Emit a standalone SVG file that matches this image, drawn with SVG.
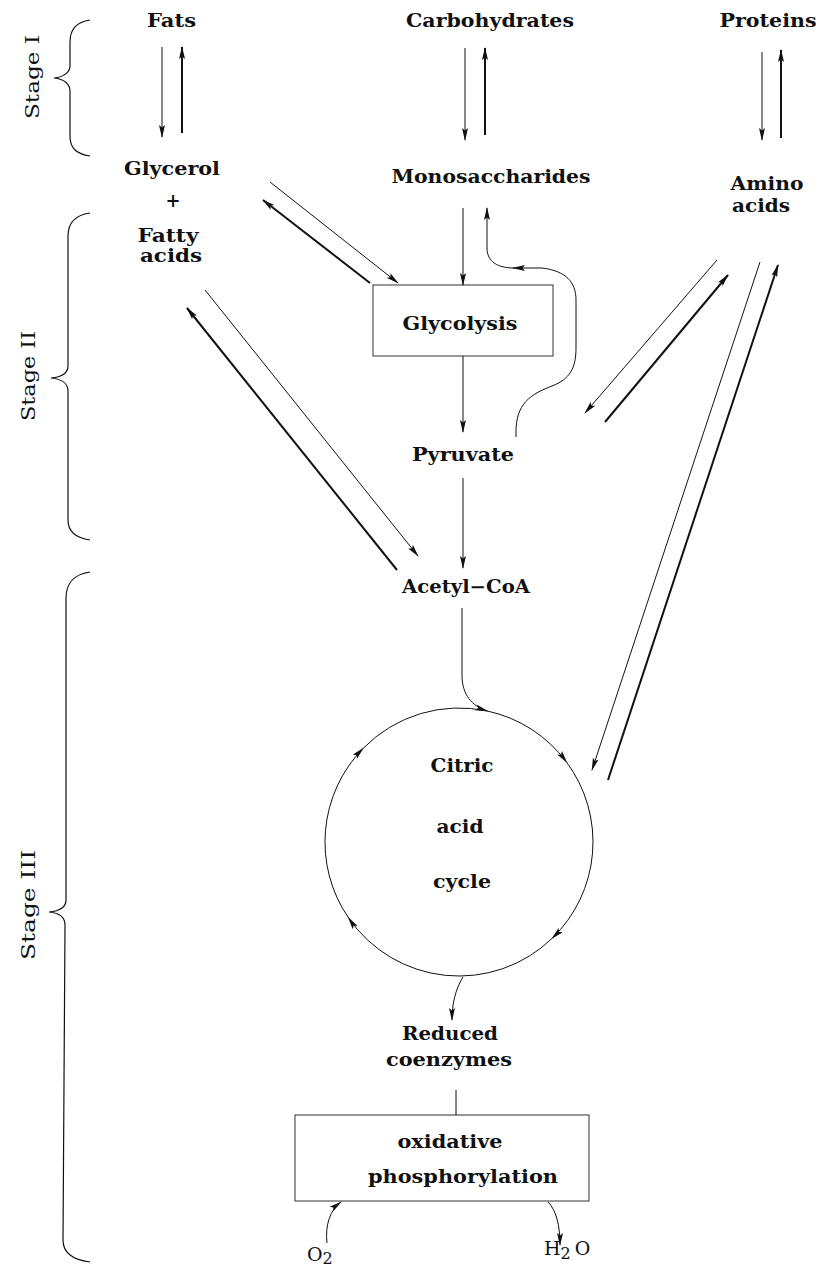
<svg xmlns="http://www.w3.org/2000/svg" width="826" height="1266" viewBox="0 0 826 1266">
<style>
.t{font-family:"DejaVu Serif","Liberation Serif",serif;font-size:18px;font-weight:bold;fill:#111;text-anchor:middle}
.s{font-family:"DejaVu Serif","Liberation Serif",serif;font-size:18px;fill:#111;text-anchor:middle}
.ln{fill:none;stroke:#111;stroke-width:1}
.th{fill:none;stroke:#111;stroke-width:2}
.ar{marker-end:url(#ah)}
.box{fill:#fff;stroke:#333;stroke-width:1}
.br{fill:none;stroke:#111;stroke-width:1.2}
</style>
<defs>
<marker id="ah" viewBox="0 0 13 7" refX="12" refY="3.5" markerWidth="13" markerHeight="7" orient="auto" markerUnits="userSpaceOnUse">
<path d="M0,0.5 L13,3.5 L0,6.5 L2.5,3.5 z" fill="#111"/>
</marker>
</defs>
<rect width="826" height="1266" fill="#fff"/>

<g id="stage-I">
<path class="br" d="M90,20 C76,22 70,30 70,42 L70,66 C70,72 64,77 54,78 C64,79 70,84 70,91 L70,136 C70,148 76,154 90,156"/>
<text class="s" transform="translate(39,77) rotate(-90)" textLength="84" lengthAdjust="spacingAndGlyphs">Stage I</text>
</g>
<g id="stage-II">
<path class="br" d="M90,213 C76,215 68,222 68,236 L68,366 C68,373 62,377 51,378 C62,379 68,384 68,391 L68,520 C68,532 76,538 90,540"/>
<text class="s" transform="translate(35,376) rotate(-90)" textLength="90" lengthAdjust="spacingAndGlyphs">Stage II</text>
</g>
<g id="stage-III">
<path class="br" d="M90,572 C76,574 66,582 66,598 L66,900 C66,907 60,911 49,912 C60,913 65,918 65,925 L63,1240 C63,1254 74,1260 90,1262"/>
<text class="s" transform="translate(35,905) rotate(-90)" textLength="110" lengthAdjust="spacingAndGlyphs">Stage III</text>
</g>

<g id="fats"><text class="t" x="171.5" y="27" textLength="49" lengthAdjust="spacingAndGlyphs">Fats</text></g>
<g id="carbohydrates"><text class="t" x="490" y="27" textLength="168" lengthAdjust="spacingAndGlyphs">Carbohydrates</text></g>
<g id="proteins"><text class="t" x="768" y="27" textLength="97" lengthAdjust="spacingAndGlyphs">Proteins</text></g>

<g id="glycerol-fatty-acids">
<text class="t" x="172" y="175" textLength="96" lengthAdjust="spacingAndGlyphs">Glycerol</text>
<text class="t" x="173" y="207">+</text>
<text class="t" x="168" y="242" textLength="61" lengthAdjust="spacingAndGlyphs">Fatty</text>
<text class="t" x="171" y="262" textLength="62" lengthAdjust="spacingAndGlyphs">acids</text>
</g>
<g id="monosaccharides"><text class="t" x="491" y="183" textLength="199" lengthAdjust="spacingAndGlyphs">Monosaccharides</text></g>
<g id="amino-acids">
<text class="t" x="767" y="190" textLength="73" lengthAdjust="spacingAndGlyphs">Amino</text>
<text class="t" x="761" y="212" textLength="58" lengthAdjust="spacingAndGlyphs">acids</text>
</g>

<g id="glycolysis">
<rect class="box" x="373" y="285" width="180" height="71"/>
<text class="t" x="460" y="330" textLength="115" lengthAdjust="spacingAndGlyphs">Glycolysis</text>
</g>
<g id="pyruvate"><text class="t" x="463" y="461" textLength="102" lengthAdjust="spacingAndGlyphs">Pyruvate</text></g>
<g id="acetyl-coa"><text class="t" x="466" y="593" textLength="128" lengthAdjust="spacingAndGlyphs">Acetyl−CoA</text></g>

<g id="citric-acid-cycle">
<text class="t" x="462" y="772" textLength="63" lengthAdjust="spacingAndGlyphs">Citric</text>
<text class="t" x="460" y="833" textLength="47" lengthAdjust="spacingAndGlyphs">acid</text>
<text class="t" x="462" y="888" textLength="58" lengthAdjust="spacingAndGlyphs">cycle</text>
<path class="ln" d="M363.3,748.2 A134,134 0 0 1 487.3,711"/>
<path class="ln ar" d="M487.3,711 A134,134 0 0 1 566.7,762.3"/>
<path class="ln ar" d="M566.7,762.3 A134,134 0 0 1 552.1,938.4"/>
<path class="ln ar" d="M552.1,938.4 A134,134 0 0 1 348.4,917.7"/>
<path class="ln ar" d="M348.4,917.7 A134,134 0 0 1 363.3,748.2"/>
</g>

<g id="reduced-coenzymes">
<text class="t" x="450" y="1040" textLength="96" lengthAdjust="spacingAndGlyphs">Reduced</text>
<text class="t" x="449" y="1066" textLength="126" lengthAdjust="spacingAndGlyphs">coenzymes</text>
</g>
<g id="oxidative-phosphorylation">
<rect class="box" x="295" y="1115" width="294" height="86"/>
<text class="t" x="450" y="1148" textLength="105" lengthAdjust="spacingAndGlyphs">oxidative</text>
<text class="t" x="463" y="1183" textLength="190" lengthAdjust="spacingAndGlyphs">phosphorylation</text>
</g>
<g id="o2"><text class="s" x="307" y="1261" style="text-anchor:start;font-size:19px">O<tspan font-size="16" dy="3">2</tspan></text></g>
<g id="h2o"><text class="s" x="544" y="1255" style="text-anchor:start;font-size:19px">H<tspan font-size="16" dy="4">2</tspan><tspan dy="-4" dx="4">O</tspan></text></g>

<g id="connectors">
<path class="ln ar" d="M162,47 L162,137"/>
<path class="th ar" d="M182,133 L182,47"/>
<path class="ln ar" d="M465,48 L465,140"/>
<path class="th ar" d="M485,135 L485,48"/>
<path class="ln ar" d="M762,52 L762,140"/>
<path class="th ar" d="M781,138 L781,50"/>

<path class="ln ar" d="M463,208 L463,285"/>
<path class="ln ar" d="M463,356 L463,432"/>
<path class="ln ar" d="M463,478 L463,568"/>

<path class="ln ar" d="M516,437 C515,408 525,396 552,386 C570,379 576,368 576,348 L576,300 C576,282 566,271 542,268 L513,268"/>
<path class="ln ar" d="M514,268 C498,268 487,262 487,248 L487,208"/>

<path class="ln ar" d="M270,182 L398,283"/>
<path class="th ar" d="M370,283 L263,200"/>
<path class="ln ar" d="M205,290 L418,556"/>
<path class="th ar" d="M397,570 L187,308"/>

<path class="ln ar" d="M717,260 L585,413"/>
<path class="th ar" d="M605,422 L728,275"/>
<path class="ln ar" d="M760,262 L592,770"/>
<path class="th ar" d="M608,780 L778,265"/>

<path class="ln ar" d="M462,608 L462,675 C462,695 472,706 487.3,711"/>
<path class="ln ar" d="M463,977 C455,990 452,1005 452,1020"/>
<path class="ln" d="M456,1090 L456,1115"/>
<path class="ln ar" d="M327,1243 C325,1225 330,1210 341,1202"/>
<path class="ln ar" d="M548,1202 C556,1210 560,1225 560,1245"/>
</g>
</svg>
